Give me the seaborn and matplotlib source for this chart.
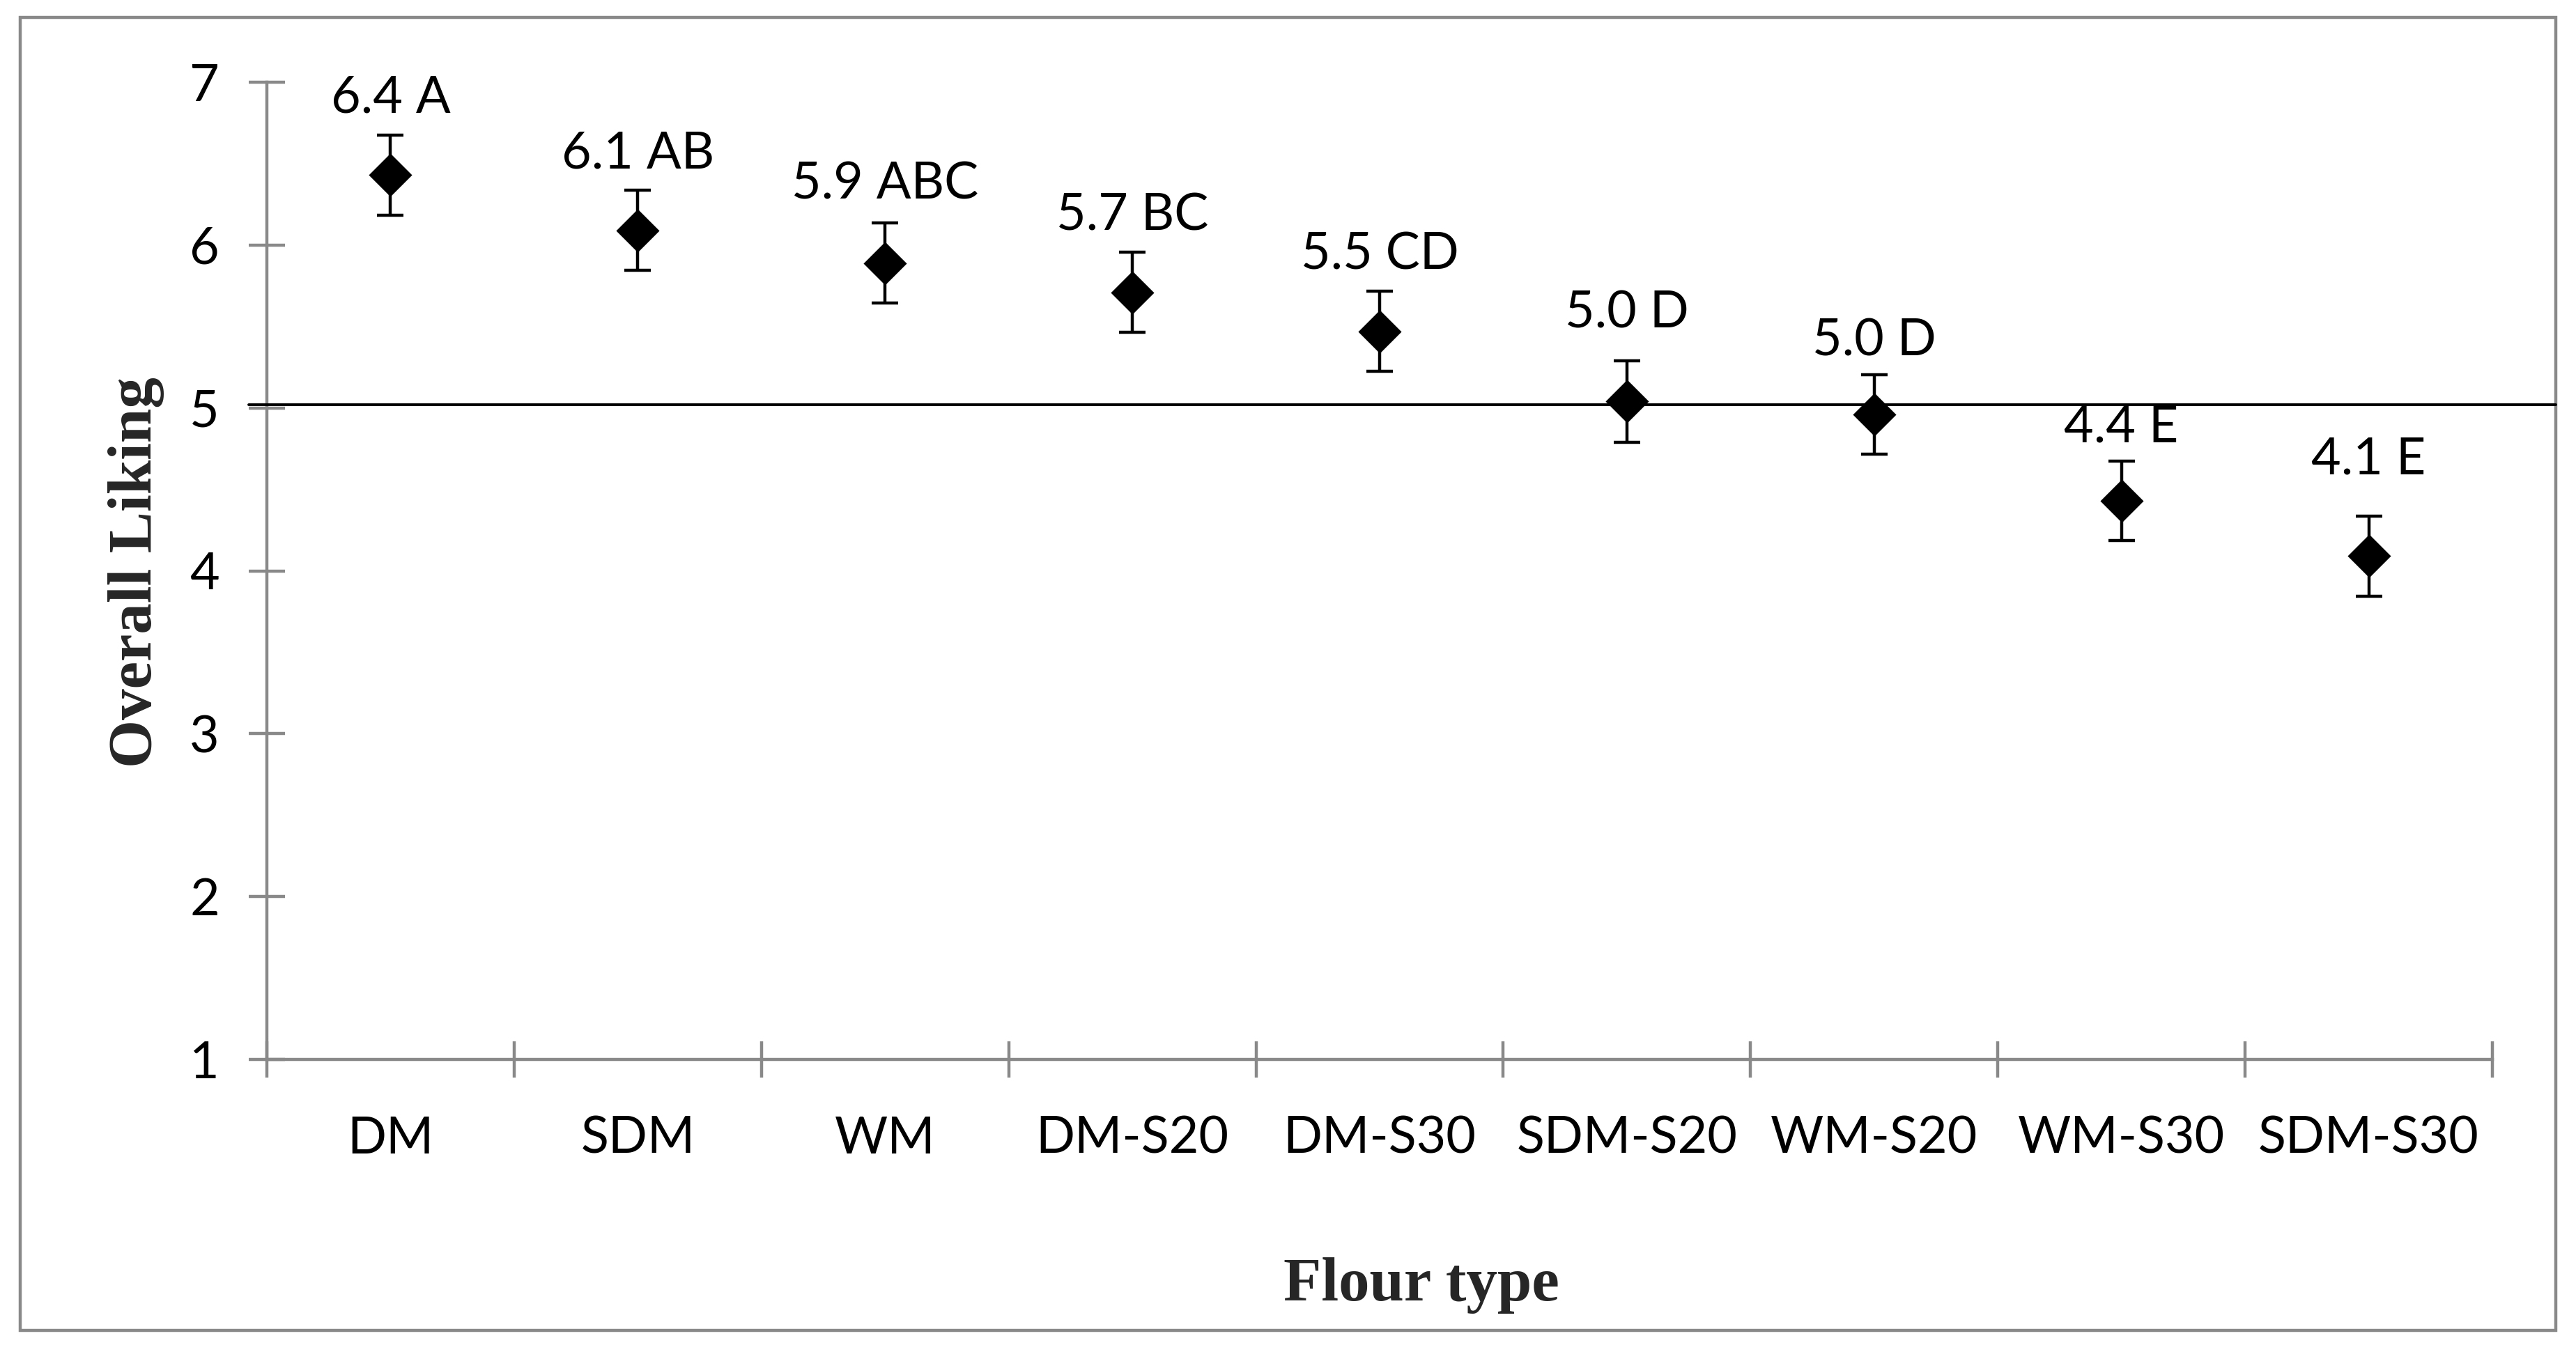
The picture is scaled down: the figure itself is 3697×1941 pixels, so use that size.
import matplotlib
matplotlib.use("Agg")
import matplotlib.pyplot as plt
import matplotlib.patches as mpatches
from matplotlib.lines import Line2D
import seaborn as sns
import pandas as pd
import numpy as np

# ---- data ----
flour_types = ["DM", "SDM", "WM", "DM-S20", "DM-S30", "SDM-S20", "WM-S20", "WM-S30", "SDM-S30"]
liking_mean = [6.43, 6.09, 5.89, 5.71, 5.47, 5.04, 4.96, 4.43, 4.09]
liking_err = [0.245, 0.245, 0.245, 0.245, 0.245, 0.25, 0.245, 0.245, 0.245]
point_labels = ["6.4 A", "6.1 AB", "5.9 ABC", "5.7 BC", "5.5 CD", "5.0 D", "5.0 D", "4.4 E", "4.1 E"]
y_ticks = [1, 2, 3, 4, 5, 6, 7]
reference_line = 5.02

# label placement offsets above each point (layout, not data)
label_offsets = [0.47, 0.47, 0.48, 0.47, 0.47, 0.54, 0.45, 0.45, 0.59]

df = pd.DataFrame({"flour": flour_types, "liking": liking_mean, "err": liking_err})

sns.set_theme(style="white")
plt.rcParams["font.family"] = ["Lato", "DejaVu Sans"]

W, H = 3697, 1941
dpi = 100
fig = plt.figure(figsize=(W / dpi, H / dpi), dpi=dpi)
fig.patch.set_facecolor("white")

ax_l, ax_r = 383 / W, 3577 / W
ax_b, ax_t = 1 - 1521 / H, 1 - 118 / H
ax = fig.add_axes([ax_l, ax_b, ax_r - ax_l, ax_t - ax_b])
ax.set_facecolor("white")

gray = "#898989"

# reference line (Excel-like drawn line extending to the border)
line_x0 = 357 / W
line_x1 = 3668 / W
yfrac = ax_b + (reference_line - 1) / 6 * (ax_t - ax_b)
fig.add_artist(Line2D([line_x0, line_x1], [yfrac, yfrac], color="black", lw=2.8,
                      transform=fig.transFigure, zorder=1))

# error bars
x = np.arange(len(flour_types))
ax.errorbar(x, df["liking"], yerr=df["err"], fmt="none", ecolor="black",
            elinewidth=3.2, capsize=13.5, capthick=3.2, zorder=3)

# points
sns.scatterplot(data=df, x="flour", y="liking", marker="D", color="black",
                s=1000, edgecolor="black", linewidth=0, ax=ax, zorder=4, legend=False)

# data labels
for xi, m, lab, off in zip(x, liking_mean, point_labels, label_offsets):
    ax.text(xi, m + off, lab, ha="center", va="center", fontsize=53, color="black",
            zorder=5)

ax.set_xlim(-0.5, len(flour_types) - 0.5)
ax.set_ylim(1, 7)

# spines
for s in ["top", "right"]:
    ax.spines[s].set_visible(False)
for s in ["left", "bottom"]:
    ax.spines[s].set_color(gray)
    ax.spines[s].set_linewidth(3.2)

# y ticks
ax.set_yticks(y_ticks)
ax.set_yticklabels([str(t) for t in y_ticks])
ax.tick_params(axis="y", which="major", direction="inout", length=38, width=3.2,
               color=gray, labelsize=53, pad=30, labelcolor="black", left=True)

# x ticks at category boundaries, labels at centers
ax.set_xticks(np.arange(-0.5, len(flour_types), 1.0))
ax.set_xticklabels([])
ax.set_xticks(x, minor=True)
ax.set_xticklabels(flour_types, minor=True)
ax.tick_params(axis="x", which="major", direction="inout", length=38, width=3.2,
               color=gray, bottom=True)
ax.tick_params(axis="x", which="minor", length=0, labelsize=53, pad=58,
               labelcolor="black", bottom=True)

ax.set_xlabel("")
ax.set_ylabel("")

# axis titles
fig.text(196 / W, 1 - 822 / H, "Overall Liking", rotation=90, ha="center", va="center",
         fontsize=64, fontweight="bold", family=["Liberation Serif", "DejaVu Serif"])
fig.text(2040 / W, 1 - 1846 / H, "Flour type", ha="center", va="center",
         fontsize=64, fontweight="bold", family=["Liberation Serif", "DejaVu Serif"])

# outer border
rect = mpatches.Rectangle((29 / W, 1 - 1910 / H), (3668 - 29) / W, (1910 - 25) / H,
                          transform=fig.transFigure, fill=False, edgecolor=gray,
                          linewidth=3.2, zorder=0)
fig.add_artist(rect)

fig.savefig("out.png", dpi=dpi, facecolor="white")
